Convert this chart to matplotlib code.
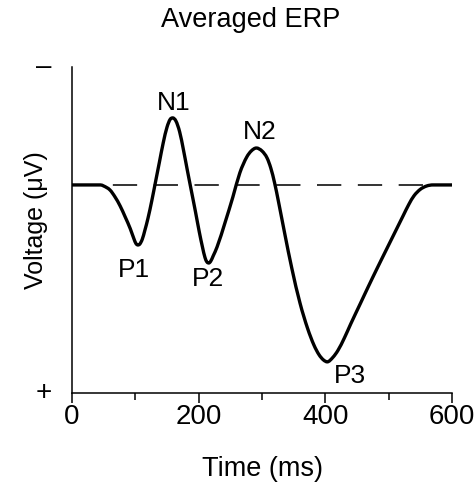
import numpy as np
import matplotlib
matplotlib.use("Agg")
import matplotlib.pyplot as plt
from matplotlib.path import Path
from matplotlib.patches import PathPatch

plt.rcParams.update({
    "font.family": ["Liberation Sans", "DejaVu Sans"],
    "font.size": 20,
})

# ERP waveform (time in ms, voltage in uV, positive plotted down)
time_ms = [0, 45, 50, 60, 68, 76, 84, 92, 98, 101, 104, 107, 111, 115, 120, 126,
           132, 138, 144, 150, 155, 159, 164, 170, 176, 182, 188, 195, 201, 206,
           210, 213, 216, 219, 223, 229, 242, 254, 265, 276, 283, 291, 300, 308,
           314, 320, 326, 336, 347, 360, 372, 382, 390, 397, 403, 412, 420, 430,
           440, 455, 468, 482, 497, 510, 523, 532, 540, 550, 560, 570, 600]
voltage_uv = [0.0, 0.0, 0.06, 0.29, 0.69, 1.2, 1.83, 2.5, 3.1, 3.35, 3.43, 3.38,
              3.1, 2.6, 1.9, 0.9, -0.2, -1.3, -2.4, -3.3, -3.75, -3.83, -3.66,
              -3.03, -2.0, -0.86, 0.25, 1.54, 2.69, 3.55, 4.15, 4.4, 4.46, 4.36,
              4.05, 3.55, 2.11, 0.69, -0.69, -1.6, -1.94, -2.11, -1.94, -1.54,
              -0.95, -0.1, 0.95, 2.8, 4.75, 6.75, 8.2, 9.15, 9.7, 10.0, 10.11,
              9.85, 9.45, 8.75, 7.95, 6.8, 5.8, 4.75, 3.65, 2.7, 1.75, 1.1, 0.62,
              0.25, 0.06, 0.0, 0.0]

peak_names = ["P1", "N1", "P2", "N2", "P3"]
peak_label_t = [98, 160, 215, 297, 439]
peak_label_v = [4.86, -4.69, 5.37, -3.03, 10.91]

x_ticks = [0, 200, 400, 600]
x_minor = [100, 300, 500]


def smooth_path(xs, ys):
    # monotone cubic bezier through the read points (drawn as a Path, no new data)
    xs = np.asarray(xs, float)
    ys = np.asarray(ys, float)
    d = np.diff(ys) / np.diff(xs)
    m = np.zeros_like(ys)
    m[0], m[-1] = d[0], d[-1]
    for k in range(1, len(xs) - 1):
        if d[k - 1] * d[k] > 0:
            m[k] = (d[k - 1] + d[k]) / 2
    verts = [(xs[0], ys[0])]
    codes = [Path.MOVETO]
    for k in range(len(xs) - 1):
        h = xs[k + 1] - xs[k]
        verts += [(xs[k] + h / 3, ys[k] + m[k] * h / 3),
                  (xs[k + 1] - h / 3, ys[k + 1] - m[k + 1] * h / 3),
                  (xs[k + 1], ys[k + 1])]
        codes += [Path.CURVE4] * 3
    return Path(verts, codes)


fig = plt.figure(figsize=(4.75, 4.84), dpi=100)
ax = fig.add_axes([72 / 475, 1 - 393 / 484, 380 / 475, 326 / 484])

# baseline
ax.plot([0, 600], [0, 0], color="#333333", lw=1.4, dashes=(12.5, 8.5), zorder=1)
# waveform
ax.add_patch(PathPatch(smooth_path(time_ms, voltage_uv), fill=False, edgecolor="black",
                       lw=2.4, capstyle="butt", joinstyle="round", zorder=2))

for name, t, v in zip(peak_names, peak_label_t, peak_label_v):
    ax.text(t, v, name, ha="center", va="center", fontsize=19)

ax.set_xlim(0, 600)
ax.set_ylim(11.89, -6.74)
ax.set_xticks(x_ticks)
ax.set_xticks(x_minor, minor=True)
ax.tick_params(axis="x", which="major", length=7, width=1.1, pad=1, labelsize=20)
ax.tick_params(axis="x", which="minor", length=5, width=1.1)
ax.set_yticks([])

for side in ["top", "right"]:
    ax.spines[side].set_visible(False)
for side in ["left", "bottom"]:
    ax.spines[side].set_linewidth(1.1)

ax.text(-0.074, 1.0, "\u2013", transform=ax.transAxes, ha="center", va="center", fontsize=20)
ax.text(-0.074, 0.0, "+", transform=ax.transAxes, ha="center", va="center", fontsize=20)

fig.text(251 / 475, 1 - 20 / 484, "Averaged ERP", ha="center", va="center", fontsize=19.5)
fig.text(262 / 475, 1 - 469 / 484, "Time (ms)", ha="center", va="center", fontsize=19.5)
fig.text(36 / 475, 1 - 220 / 484, "Voltage (\u03bcV)", ha="center", va="center",
         rotation=90, fontsize=18)

fig.savefig("out.png", dpi=100)
